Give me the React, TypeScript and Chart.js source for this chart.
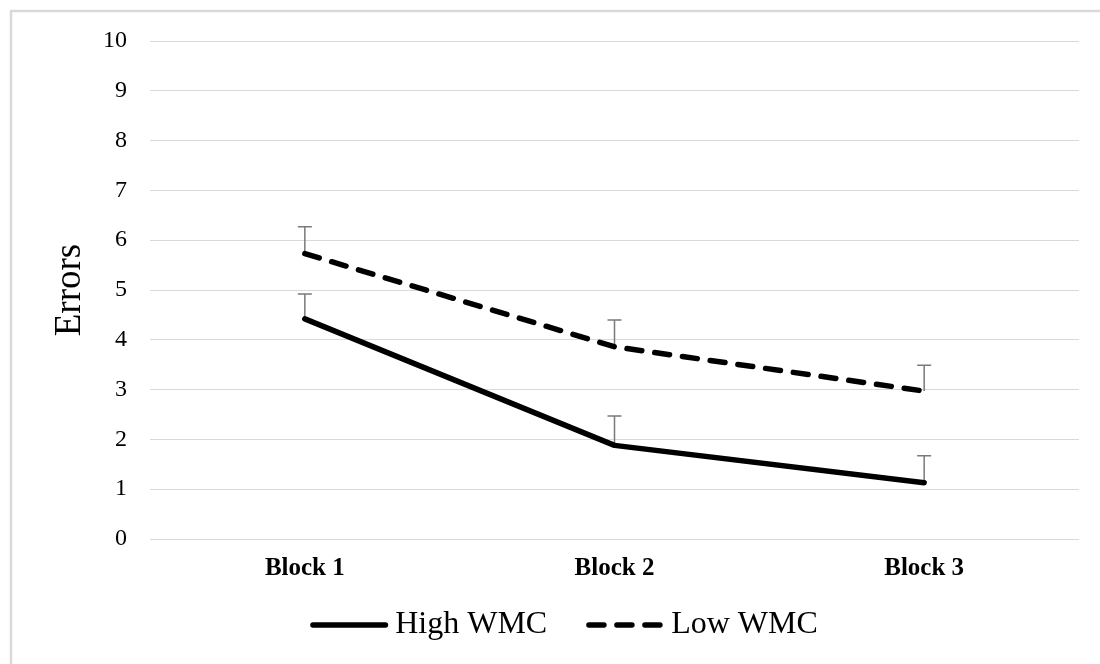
import { useEffect, useRef } from 'react';
import { Chart, registerables } from 'chart.js';

Chart.register(...registerables);

const categories = ['Block 1', 'Block 2', 'Block 3'];
const seriesNames = ['High WMC', 'Low WMC'];
const highWMC = [4.42, 1.88, 1.13];
const lowWMC = [5.73, 3.86, 2.97];
const highWMCErr = [0.5, 0.59, 0.54];
const lowWMCErr = [0.54, 0.54, 0.52];
const yMin = 0;
const yMax = 10;
const yStep = 1;

const SERIF = "'Liberation Serif', 'Times New Roman', serif";
const DASH = [15, 13];
const LINE_W = 5.5;

const framePlugin = {
  id: 'frame',
  beforeDraw(chart: any) {
    const { ctx, width, height } = chart;
    ctx.save();
    ctx.fillStyle = '#ffffff';
    ctx.fillRect(0, 0, width, height);
    ctx.strokeStyle = '#d9d9d9';
    ctx.lineWidth = 2.5;
    ctx.strokeRect(11, 11, width + 100, height + 100);
    ctx.restore();
  },
};

const errorBarPlugin = {
  id: 'errorBars',
  beforeDatasetsDraw(chart: any) {
    const { ctx } = chart;
    const yScale = chart.scales.y;
    chart.data.datasets.forEach((ds: any, i: number) => {
      const meta = chart.getDatasetMeta(i);
      meta.data.forEach((pt: any, j: number) => {
        const x = pt.x;
        const y0 = pt.y;
        const y1 = yScale.getPixelForValue(ds.data[j] + ds.errors[j]);
        ctx.save();
        ctx.strokeStyle = '#7a7a7a';
        ctx.lineWidth = 1.5;
        ctx.beginPath();
        ctx.moveTo(x, y0);
        ctx.lineTo(x, y1);
        ctx.moveTo(x - 7, y1);
        ctx.lineTo(x + 7, y1);
        ctx.stroke();
        ctx.restore();
      });
    });
  },
};

const legendPlugin = {
  id: 'customLegend',
  afterDraw(chart: any) {
    const { ctx } = chart;
    ctx.save();
    ctx.font = `32px ${SERIF}`;
    ctx.fillStyle = '#000';
    ctx.textBaseline = 'middle';
    ctx.textAlign = 'left';
    const sample = 78;
    const gapT = 7;
    const gapItem = 39;
    const w1 = ctx.measureText(seriesNames[0]).width;
    const w2 = ctx.measureText(seriesNames[1]).width;
    const total = sample + gapT + w1 + gapItem + sample + gapT + w2;
    let x = chart.width / 2 + 14 - total / 2;
    const cy = chart.chartArea.bottom + 86;
    const items = [
      { text: seriesNames[0], dash: [] as number[], w: w1 },
      { text: seriesNames[1], dash: DASH, w: w2 },
    ];
    items.forEach((it) => {
      ctx.save();
      ctx.strokeStyle = '#000';
      ctx.lineWidth = LINE_W;
      ctx.lineCap = 'round';
      ctx.setLineDash(it.dash);
      ctx.beginPath();
      ctx.moveTo(x + 2.75, cy);
      ctx.lineTo(x + sample - 2.75, cy);
      ctx.stroke();
      ctx.restore();
      ctx.fillText(it.text, x + sample + gapT, cy);
      x += sample + gapT + it.w + gapItem;
    });
    ctx.restore();
  },
};

export default function App() {
  const ref = useRef<HTMLCanvasElement | null>(null);

  useEffect(() => {
    if (!ref.current) return;
    const chart = new Chart(ref.current, {
      type: 'line',
      data: {
        labels: categories,
        datasets: [
          {
            label: seriesNames[0],
            data: highWMC,
            errors: highWMCErr,
            borderColor: '#000',
            backgroundColor: '#000',
            borderWidth: LINE_W,
            borderCapStyle: 'round',
            borderJoinStyle: 'round',
            pointRadius: 0,
            tension: 0,
            fill: false,
          } as any,
          {
            label: seriesNames[1],
            data: lowWMC,
            errors: lowWMCErr,
            borderColor: '#000',
            backgroundColor: '#000',
            borderWidth: LINE_W,
            borderDash: DASH,
            borderCapStyle: 'round',
            borderJoinStyle: 'round',
            pointRadius: 0,
            tension: 0,
            fill: false,
          } as any,
        ],
      },
      options: {
        responsive: false,
        animation: false,
        events: [],
        layout: { padding: { top: 41, right: 21, bottom: 80, left: 0 } },
        plugins: {
          legend: { display: false },
          tooltip: { enabled: false },
        },
        scales: {
          x: {
            type: 'category',
            offset: true,
            grid: { display: false, drawTicks: false },
            border: { display: false },
            ticks: {
              color: '#000',
              padding: 15,
              font: { family: SERIF, size: 25, weight: 'bold' },
            },
            afterFit(scale: any) {
              scale.height = 45;
            },
          },
          y: {
            min: yMin,
            max: yMax,
            grid: { color: '#d9d9d9', lineWidth: 1, drawTicks: false },
            border: { display: false },
            ticks: {
              stepSize: yStep,
              color: '#000',
              padding: 23,
              font: { family: SERIF, size: 24 },
            },
            title: {
              display: true,
              text: 'Errors',
              color: '#000',
              font: { family: SERIF, size: 37 },
              padding: { top: 48, bottom: 0 },
            },
            afterFit(scale: any) {
              scale.width = 150;
            },
          },
        },
      } as any,
      plugins: [framePlugin, errorBarPlugin, legendPlugin],
    });
    return () => chart.destroy();
  }, []);

  return (
    <div style={{ position: 'absolute', left: 0, top: 0, width: 1100, height: 664 }}>
      <canvas ref={ref} width={1100} height={664} style={{ display: 'block' }} />
    </div>
  );
}
